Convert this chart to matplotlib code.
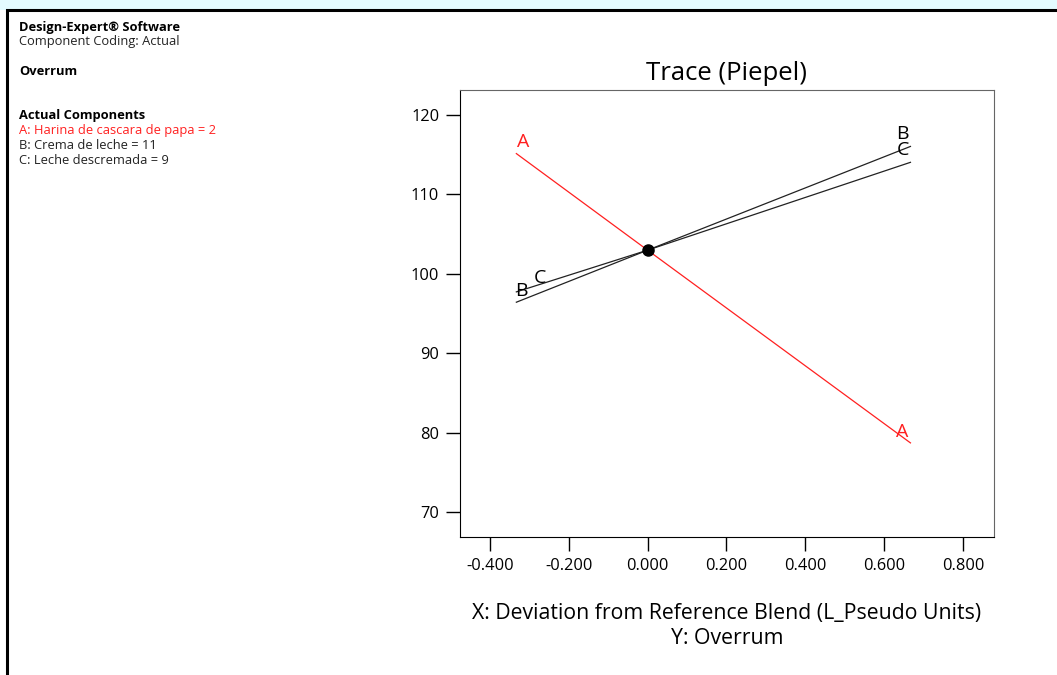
import matplotlib.pyplot as plt
from matplotlib.patches import Rectangle

plt.rcParams['font.family'] = ['Open Sans', 'DejaVu Sans']

# trace data (deviation from reference blend vs predicted overrum)
dev = [-0.333, 0.0, 0.667]
trace_a = [115.1, 102.95, 78.7]
trace_b = [96.4, 102.95, 116.0]
trace_c = [97.7, 102.95, 114.0]
ref_point = (0.0, 102.95)

x_ticks = [-0.4, -0.2, 0.0, 0.2, 0.4, 0.6, 0.8]
y_ticks = [70, 80, 90, 100, 110, 120]

info_lines = [
    ("Design-Expert\u00ae Software", 'bold', 'black'),
    ("Component Coding: Actual", 'normal', '#222222'),
    ("", 'normal', 'black'),
    ("Overrum", 'bold', 'black'),
    ("", 'normal', 'black'),
    ("", 'normal', 'black'),
    ("Actual Components", 'bold', 'black'),
    ("A: Harina de cascara de papa = 2", 'normal', '#ff2020'),
    ("B: Crema de leche = 11", 'normal', '#222222'),
    ("C: Leche descremada = 9", 'normal', '#222222'),
]

W, H = 1057, 675
fig = plt.figure(figsize=(W / 100, H / 100), dpi=100)

# light strip outside the frame, then frame
fig.patches.append(Rectangle((0, 1 - 10 / H), 1, 10 / H, transform=fig.transFigure,
                             facecolor='#e4fbff', edgecolor='none', zorder=0))
fig.patches.append(Rectangle((7 / W, -0.01), 1.1, 1 - 10 / H + 0.01, transform=fig.transFigure,
                             facecolor='white', edgecolor='black', linewidth=2.2, zorder=1))

ax = fig.add_axes([460 / W, (H - 537) / H, (994 - 460) / W, (537 - 90) / H])
ax.set_zorder(2)

ax.plot(dev, trace_a, color='#ff2020', lw=0.9)
ax.plot(dev, trace_b, color='#222222', lw=0.9)
ax.plot(dev, trace_c, color='#222222', lw=0.9)
ax.plot(*ref_point, 'o', color='black', ms=8)

lab = dict(fontsize=14, ha='center', va='center')
ax.text(-0.315, 116.6, 'A', color='#ff2020', **lab)
ax.text(0.647, 80.1, 'A', color='#ff2020', **lab)
ax.text(-0.32, 97.8, 'B', color='black', **lab)
ax.text(-0.274, 99.5, 'C', color='black', **lab)
ax.text(0.647, 117.6, 'B', color='black', **lab)
ax.text(0.647, 115.6, 'C', color='black', **lab)

ax.set_xlim(-0.476, 0.879)
ax.set_ylim(66.86, 123.1)
ax.set_xticks(x_ticks)
ax.set_xticklabels([f"{v:.3f}" for v in x_ticks])
ax.set_yticks(y_ticks)
ax.set_yticklabels([str(v) for v in y_ticks])
ax.tick_params(direction='out', length=10, width=1, labelsize=11.8, pad=5)
for s in ['top', 'right']:
    ax.spines[s].set_color('#666666')
for s in ['left', 'bottom']:
    ax.spines[s].set_color('black')

fig.text(727 / W, 1 - 73 / H, 'Trace (Piepel)', fontsize=18.5, ha='center', va='center')
fig.text(727 / W, 1 - 613 / H, 'X: Deviation from Reference Blend (L_Pseudo Units)',
         fontsize=15.3, ha='center', va='center')
fig.text(727 / W, 1 - 639 / H, 'Y: Overrum', fontsize=15.3, ha='center', va='center')

y0 = 27
for i, (txt, wt, col) in enumerate(info_lines):
    if txt:
        fig.text(19 / W, 1 - (y0 + 14.8 * i) / H, txt, fontsize=9.3, fontweight=wt,
                 color=col, ha='left', va='center')

fig.savefig('out.png', dpi=100)
